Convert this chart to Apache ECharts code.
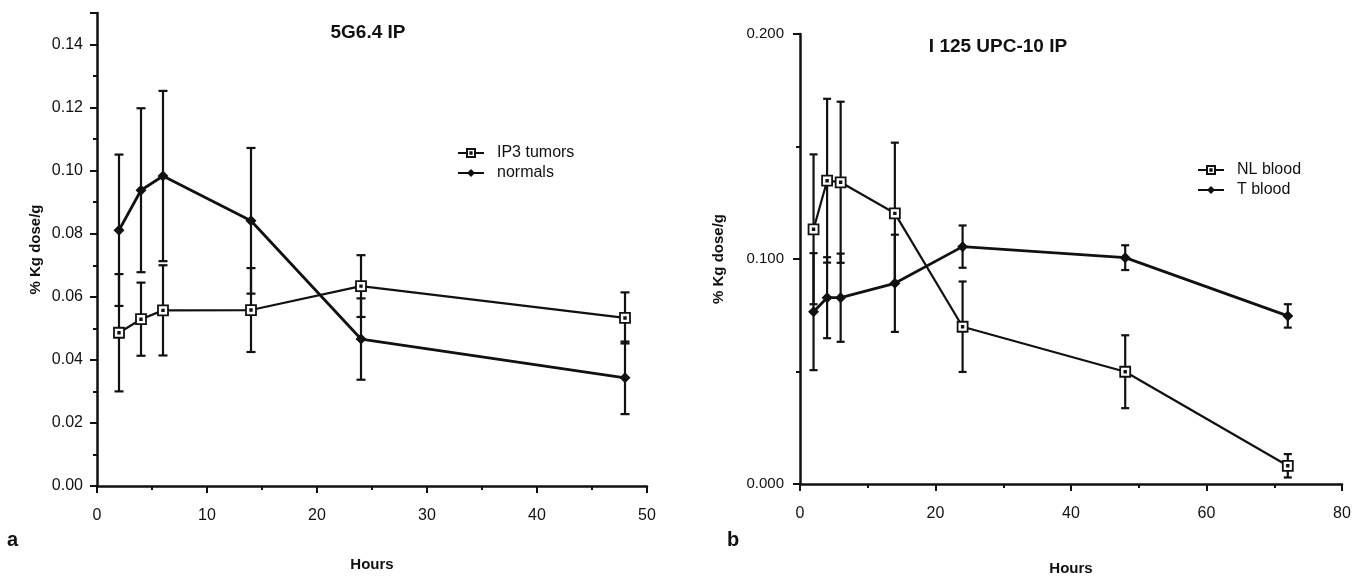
<!DOCTYPE html>
<html>
<head>
<meta charset="utf-8">
<script src="https://cdn.jsdelivr.net/npm/echarts@6/dist/echarts.min.js"></script>
<style>
  html, body { margin: 0; padding: 0; background: #fff; }
  #chart { width: 1371px; height: 577px; }
</style>
</head>
<body>
<div id="chart"></div>
<script>
// panel a: 5G6.4 IP
const hoursA = [2, 4, 6, 14, 24, 48]
const ip3Tumors = [0.0486, 0.0529, 0.0557, 0.0558, 0.0634, 0.0533]
const ip3TumorsErr = [0.0186, 0.0116, 0.0143, 0.0133, 0.0098, 0.0081]
const normals = [0.0811, 0.0938, 0.0983, 0.0841, 0.0466, 0.0343]
const normalsErr = [0.024, 0.026, 0.027, 0.0231, 0.0129, 0.0115]

// panel b: I 125 UPC-10 IP
const hoursB = [2, 4, 6, 14, 24, 48, 72]
const nlBlood = [0.1132, 0.1348, 0.1341, 0.1203, 0.0699, 0.0499, 0.0081]
const nlBloodErr = [0.0333, 0.0364, 0.0358, 0.0314, 0.0201, 0.0162, 0.0052]
const tBlood = [0.0766, 0.0828, 0.0828, 0.0892, 0.1055, 0.1006, 0.0747]
const tBloodErr = [0.026, 0.018, 0.0196, 0.0216, 0.0094, 0.0055, 0.0052]

const INK = '#111'
const FONT = '"Liberation Sans", Arial, sans-serif'
// open square with a small dot in the middle
const openSquare = 'path://M0,0 L10,0 L10,10 L0,10 Z M4.2,4.2 L5.8,4.2 L5.8,5.8 L4.2,5.8 Z'

const chart = echarts.init(document.getElementById('chart'), null, { renderer: 'canvas' })

function pairs(xs, ys) {
  return xs.map((x, i) => [x, ys[i]])
}

/**
 * 误差线（竖线 + 上下短横）
 */
function errorBars(axisIdx, xs, ys, errs, cap) {
  return {
    type: 'custom',
    xAxisIndex: axisIdx,
    yAxisIndex: axisIdx,
    silent: true,
    z: 1,
    encode: { x: 0, y: [1, 2] },
    data: xs.map((x, i) => [x, ys[i] - errs[i], ys[i] + errs[i]]),
    renderItem(params, api) {
      const lo = api.coord([api.value(0), api.value(1)])
      const hi = api.coord([api.value(0), api.value(2)])
      const style = { stroke: INK, lineWidth: 2.2 }
      return {
        type: 'group',
        children: [
          { type: 'line', shape: { x1: lo[0], y1: lo[1], x2: hi[0], y2: hi[1] }, style },
          { type: 'line', shape: { x1: lo[0] - cap, y1: lo[1], x2: lo[0] + cap, y2: lo[1] }, style },
          { type: 'line', shape: { x1: hi[0] - cap, y1: hi[1], x2: hi[0] + cap, y2: hi[1] }, style }
        ]
      }
    }
  }
}

function lineSeries(name, axisIdx, xs, ys, open) {
  return {
    name,
    type: 'line',
    xAxisIndex: axisIdx,
    yAxisIndex: axisIdx,
    data: pairs(xs, ys),
    z: 3,
    symbol: open ? openSquare : 'diamond',
    symbolSize: open ? 10 : 11,
    lineStyle: { color: INK, width: open ? 2.2 : 2.8 },
    itemStyle: open
      ? { color: '#fff', borderColor: INK, borderWidth: 1.8 }
      : { color: INK, borderColor: INK, borderWidth: 0 },
    emphasis: { disabled: true }
  }
}

function valueAxis(idx, max, interval, digits) {
  return {
    type: 'value',
    gridIndex: idx,
    min: 0,
    max,
    interval,
    name: '% Kg dose/g',
    nameLocation: 'middle',
    nameRotate: 90,
    nameGap: idx === 0 ? 54 : 74,
    nameTextStyle: { fontFamily: FONT, fontSize: 15, fontWeight: 'bold', color: INK },
    axisLine: { show: true, lineStyle: { color: INK, width: 2.5 } },
    axisTick: { show: true, length: 7, lineStyle: { color: INK, width: 2 } },
    minorTick: { show: true, splitNumber: 2, length: 4, lineStyle: { color: INK, width: 2 } },
    splitLine: { show: false },
    axisLabel: {
      fontFamily: FONT,
      fontSize: idx === 0 ? 16 : 15,
      color: INK,
      margin: idx === 0 ? 14 : 16,
      showMaxLabel: idx === 0 ? false : true,
      formatter: v => v.toFixed(digits)
    }
  }
}

function hourAxis(idx, max, interval) {
  return {
    type: 'value',
    gridIndex: idx,
    min: 0,
    max,
    interval,
    name: 'Hours',
    nameLocation: 'middle',
    nameGap: idx === 0 ? 71 : 77,
    nameTextStyle: { fontFamily: FONT, fontSize: 15, fontWeight: 'bold', color: INK },
    axisLine: { show: true, onZero: false, lineStyle: { color: INK, width: 2.5 } },
    axisTick: { show: true, length: 7, lineStyle: { color: INK, width: 2 } },
    minorTick: { show: true, splitNumber: 2, length: 4, lineStyle: { color: INK, width: 2 } },
    splitLine: { show: false },
    axisLabel: { fontFamily: FONT, fontSize: 16, color: INK, margin: 22 }
  }
}

const legendBase = {
  orient: 'vertical',
  itemWidth: 26,
  itemHeight: 10,
  itemGap: 4,
  selectedMode: false,
  textStyle: { fontFamily: FONT, fontSize: 16, color: INK, padding: [0, 0, 0, 8] }
}

const option = {
  backgroundColor: '#fff',
  animation: false,
  title: [
    { text: '5G6.4 IP', left: 363, top: 18, textAlign: 'center',
      textStyle: { fontFamily: FONT, fontSize: 19, fontWeight: 'bold', color: INK } },
    { text: 'I 125 UPC-10 IP', left: 993, top: 32, textAlign: 'center',
      textStyle: { fontFamily: FONT, fontSize: 19, fontWeight: 'bold', color: INK } }
  ],
  legend: [
    { ...legendBase, data: ['IP3 tumors', 'normals'], left: 452, top: 140 },
    { ...legendBase, data: ['NL blood', 'T blood'], left: 1192, top: 157 }
  ],
  graphic: [
    { type: 'text', left: 7, top: 530, style: { text: 'a', font: 'bold 20px ' + FONT, fill: INK } },
    { type: 'text', left: 727, top: 530, style: { text: 'b', font: 'bold 20px ' + FONT, fill: INK } }
  ],
  grid: [
    { left: 97, top: 13, width: 550, height: 473, outerBoundsMode: 'none', containLabel: false },
    { left: 800, top: 34, width: 542, height: 450, outerBoundsMode: 'none', containLabel: false }
  ],
  xAxis: [hourAxis(0, 50, 10), hourAxis(1, 80, 20)],
  yAxis: [valueAxis(0, 0.15, 0.02, 2), valueAxis(1, 0.2, 0.1, 3)],
  series: [
    errorBars(0, hoursA, ip3Tumors, ip3TumorsErr, 4.5),
    errorBars(0, hoursA, normals, normalsErr, 4.5),
    lineSeries('IP3 tumors', 0, hoursA, ip3Tumors, true),
    lineSeries('normals', 0, hoursA, normals, false),
    errorBars(1, hoursB, nlBlood, nlBloodErr, 4),
    errorBars(1, hoursB, tBlood, tBloodErr, 4),
    lineSeries('NL blood', 1, hoursB, nlBlood, true),
    lineSeries('T blood', 1, hoursB, tBlood, false)
  ]
}

chart.setOption(option)
</script>
</body>
</html>
